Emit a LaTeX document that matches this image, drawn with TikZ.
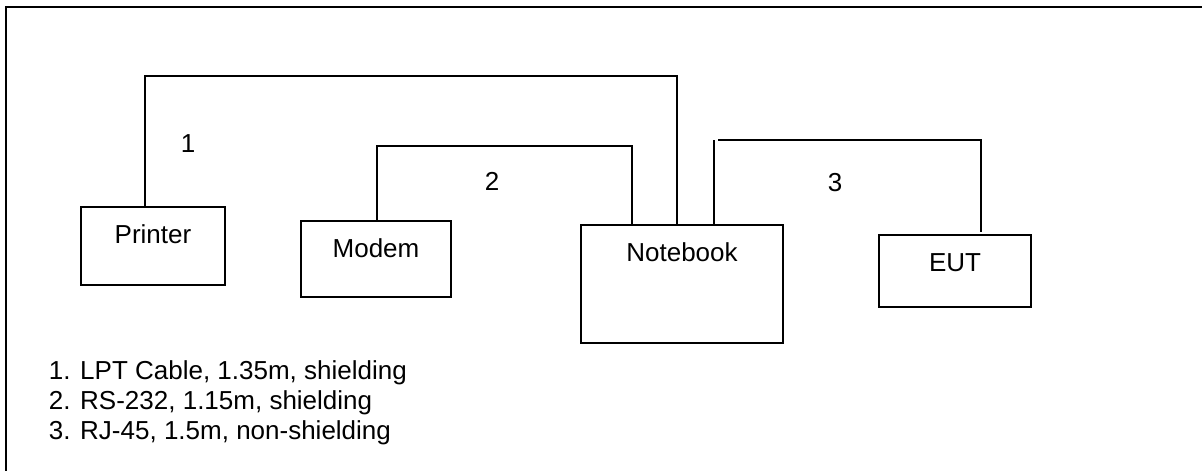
\documentclass[tikz,border=0pt]{standalone}
\usepackage{fontspec}
\setmainfont{Liberation Sans}
\begin{document}
\begin{tikzpicture}[x=1pt,y=-1pt,
  line width=1.8pt,
  device/.style={draw,rectangle,inner sep=0pt,anchor=base,text height=36pt,font=\fontsize{26}{30}\selectfont},
  numlabel/.style={anchor=base,inner sep=0pt,font=\fontsize{26}{30}\selectfont},
  legend/.style={anchor=base west,inner sep=0pt,align=left,font=\fontsize{26}{30}\selectfont}]
\useasboundingbox (0,0) rectangle (1202,471);
% frame (only top and left visible)
\draw (6,471) |- (1202,7);
% devices
\node[device,minimum width=144pt,text depth=42pt] (printer) at (153,243) {Printer};
\node[device,minimum width=150pt,text depth=40pt] (modem) at (376,257) {Modem};
\node[device,minimum width=202pt,text depth=82pt] (notebook) at (682,261) {Notebook};
\node[device,minimum width=152pt,text depth=36pt] (eut) at (955,271) {EUT};
% cable 1
\coordinate (n1) at ([xshift=-5pt]notebook.north);
\draw ([xshift=-8pt]printer.north) -- ++(0,-130) -| (n1);
% cable 2
\coordinate (n2) at ([xshift=-50pt]notebook.north);
\draw ([xshift=1pt]modem.north) -- ++(0,-74) -| (n2);
% cable 3
\coordinate (n3) at ([xshift=32pt]notebook.north);
\coordinate (e3) at ([xshift=26pt,yshift=2pt]eut.north);
\draw (n3) -- ++(0,-84) coordinate (n3top);
\draw ([xshift=4pt]n3top) -| (e3);
% cable numbers
\node[numlabel] (l1) at (188,152) {1};
\node[numlabel] (l2) at (492,190) {2};
\node[numlabel] (l3) at (835,191) {3};
% legend (base anchor = baseline of last line)
\node[legend] (leg) at (48,439) {1. LPT Cable, 1.35m, shielding\\2. RS-232, 1.15m, shielding\\3. RJ-45, 1.5m, non-shielding};
\end{tikzpicture}
\end{document}
